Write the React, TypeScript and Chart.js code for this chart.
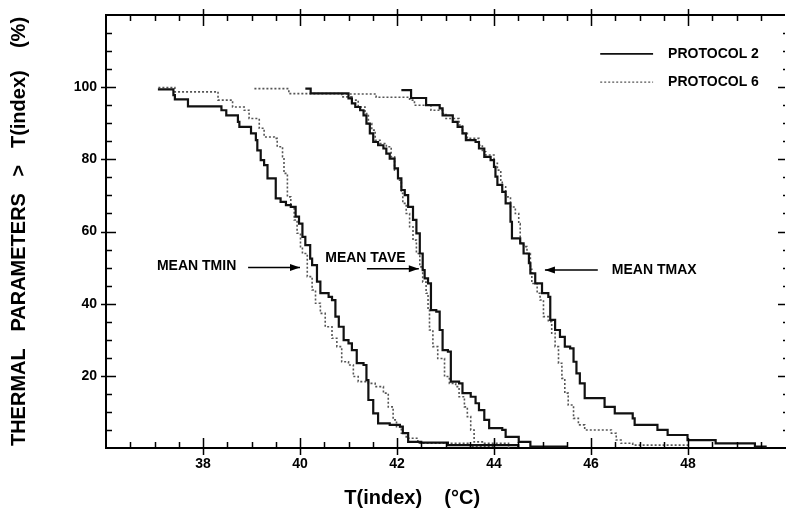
import React, { useEffect, useRef } from "react";
import { Chart, registerables } from "chart.js";

Chart.register(...registerables);

// ---- axis ranges / tick labels ----
const xRange = [36, 50];
const yRange = [0, 120];
const xTickLabels = [38, 40, 42, 44, 46, 48];
const yTickLabels = [20, 40, 60, 80, 100];
const seriesNames = ["PROTOCOL 2", "PROTOCOL 6"];
const annotationLabels = ["MEAN TMIN", "MEAN TAVE", "MEAN TMAX"];

// ---- data: [T(index) in °C, % of patients with parameter > T] ----
const tminP2: [number, number][] = [
  [37.07, 99.4], [37.39, 97.8], [37.42, 96.6], [37.69, 94.7], [38.38, 93.6], [38.48, 92.2],
  [38.72, 90.4], [38.75, 89.0], [38.99, 87.2], [39.09, 85.3], [39.12, 82.5], [39.19, 79.8],
  [39.26, 78.4], [39.33, 74.7], [39.50, 69.2], [39.60, 68.2], [39.71, 67.3], [39.81, 66.8],
  [39.91, 64.1], [39.98, 62.2], [40.05, 58.5], [40.11, 56.2], [40.21, 52.5], [40.25, 50.7],
  [40.35, 46.1], [40.42, 42.9], [40.59, 41.9], [40.66, 41.0], [40.73, 36.4], [40.80, 33.6],
  [40.90, 29.9], [41.00, 29.0], [41.07, 27.1], [41.17, 23.5], [41.31, 23.0], [41.37, 18.8],
  [41.41, 13.3], [41.51, 9.6], [41.61, 6.8], [41.85, 6.4], [42.06, 5.9], [42.12, 4.1],
  [42.23, 1.7], [42.50, 1.5], [43.05, 0.8], [44.5, 0],
];
const tminP6: [number, number][] = [
  [37.08, 99.9], [37.42, 98.7], [38.31, 96.4], [38.61, 94.5], [38.85, 93.6], [38.95, 91.3],
  [39.16, 88.6], [39.26, 86.2], [39.47, 85.8], [39.53, 83.5], [39.64, 80.7], [39.67, 76.1],
  [39.74, 69.6], [39.81, 66.8], [39.88, 63.2], [39.94, 59.5], [40.01, 55.8], [40.05, 53.9],
  [40.15, 47.5], [40.25, 43.8], [40.32, 40.1], [40.42, 37.3], [40.52, 33.6], [40.66, 30.4],
  [40.76, 28.1], [40.86, 23.9], [41.00, 23.0], [41.10, 19.8], [41.20, 18.4], [41.41, 17.9],
  [41.55, 17.0], [41.72, 15.2], [41.82, 11.4], [41.92, 7.8], [41.99, 5.9], [42.09, 4.1],
  [42.19, 2.7], [42.43, 1.3], [43.5, 0.5], [44.0, 0],
];
const taveP2: [number, number][] = [
  [40.11, 99.6], [40.22, 98.3], [41.00, 96.9], [41.07, 95.5], [41.14, 94.5], [41.24, 93.6],
  [41.31, 92.2], [41.37, 89.9], [41.44, 87.2], [41.51, 84.8], [41.61, 83.9], [41.72, 83.0],
  [41.78, 81.6], [41.85, 80.2], [41.95, 77.5], [42.02, 74.7], [42.09, 71.5], [42.16, 70.1],
  [42.23, 66.8], [42.33, 63.2], [42.40, 59.5], [42.47, 53.9], [42.53, 49.3], [42.57, 47.0],
  [42.64, 45.6], [42.70, 38.2], [42.81, 37.8], [42.88, 32.7], [42.94, 27.1], [43.05, 26.7],
  [43.11, 18.4], [43.28, 17.9], [43.35, 15.2], [43.52, 14.2], [43.62, 12.4], [43.69, 10.5],
  [43.80, 7.8], [43.90, 5.5], [44.17, 5.0], [44.24, 3.1], [44.51, 1.7], [44.75, 0.4], [45.5, 0],
];
const taveP6: [number, number][] = [
  [39.06, 99.6], [39.77, 98.2], [40.86, 97.3], [41.07, 96.4], [41.20, 94.5], [41.34, 92.7],
  [41.41, 89.9], [41.48, 88.1], [41.55, 85.3], [41.65, 84.4], [41.78, 83.5], [41.88, 80.7],
  [41.95, 77.0], [42.02, 74.2], [42.09, 70.6], [42.12, 67.8], [42.19, 65.0], [42.26, 61.3],
  [42.33, 57.6], [42.40, 53.9], [42.47, 50.2], [42.53, 46.0], [42.60, 42.9], [42.64, 38.2],
  [42.67, 32.7], [42.74, 28.1], [42.84, 24.8], [42.98, 19.8], [43.08, 17.9], [43.21, 17.0],
  [43.28, 14.2], [43.39, 11.4], [43.45, 8.7], [43.52, 5.0], [43.59, 1.7], [43.76, 1.3], [44.3, 0],
];
const tmaxP2: [number, number][] = [
  [42.09, 99.2], [42.29, 97.0], [42.60, 95.0], [42.88, 94.1], [42.94, 92.2], [43.15, 90.4],
  [43.25, 89.0], [43.35, 87.2], [43.42, 85.3], [43.62, 84.8], [43.69, 83.0], [43.80, 80.7],
  [43.93, 79.8], [44.00, 77.9], [44.03, 75.2], [44.07, 72.9], [44.17, 71.0], [44.24, 67.8],
  [44.34, 62.7], [44.37, 58.1], [44.54, 56.7], [44.61, 53.9], [44.72, 51.2], [44.75, 48.4],
  [44.85, 45.6], [44.99, 42.9], [45.12, 41.9], [45.16, 35.5], [45.26, 32.7], [45.36, 30.8],
  [45.46, 28.1], [45.57, 27.6], [45.64, 23.9], [45.70, 20.7], [45.77, 17.9], [45.87, 13.8],
  [46.28, 11.4], [46.49, 9.6], [46.86, 8.2], [46.90, 6.4], [47.37, 5.0], [47.58, 3.6],
  [47.99, 2.2], [48.57, 1.3], [49.38, 0.4], [49.6, 0],
];
const tmaxP6: [number, number][] = [
  [40.86, 98.1], [41.57, 97.2], [42.26, 96.4], [42.36, 95.0], [42.70, 93.6], [42.94, 92.7],
  [43.01, 91.3], [43.28, 89.5], [43.35, 87.2], [43.45, 85.8], [43.69, 83.9], [43.76, 82.1],
  [43.83, 81.2], [44.00, 78.9], [44.07, 77.0], [44.14, 74.2], [44.17, 72.4], [44.24, 69.6],
  [44.34, 66.8], [44.44, 65.0], [44.51, 62.2], [44.54, 56.7], [44.61, 55.8], [44.68, 53.9],
  [44.75, 49.5], [44.78, 45.6], [44.89, 42.9], [44.95, 41.0], [45.02, 36.4], [45.12, 35.0],
  [45.19, 31.8], [45.26, 28.1], [45.33, 23.5], [45.40, 19.3], [45.46, 15.2], [45.53, 11.9],
  [45.64, 8.2], [45.74, 6.4], [45.87, 5.0], [46.42, 4.1], [46.52, 2.2], [46.62, 1.3],
  [46.86, 0.8], [48.0, 0],
];

const FONT = "'Liberation Sans', Arial, Helvetica, sans-serif";
const SOLID = { borderColor: "#111", borderWidth: 2.2, borderDash: [] as number[] };
const DOTTED = { borderColor: "#555", borderWidth: 1.6, borderDash: [2, 2] };

function toPts(arr: [number, number][]) {
  return arr.map(([x, y]) => ({ x, y }));
}

const framePlugin = {
  id: "frame",
  afterDraw(chart: any) {
    const { ctx, chartArea: a, scales } = chart;
    const xs = scales.x;
    const ys = scales.y;
    ctx.save();
    ctx.strokeStyle = "#000";
    ctx.fillStyle = "#000";
    // top border
    ctx.lineWidth = 2;
    ctx.beginPath();
    ctx.moveTo(a.left, a.top);
    ctx.lineTo(a.right, a.top);
    ctx.stroke();
    // x ticks, bottom and top
    ctx.lineWidth = 1.5;
    for (let v = xRange[0] + 0.5; v < xRange[1]; v += 0.5) {
      const px = Math.round(xs.getPixelForValue(v)) + 0.5;
      const major = Math.abs(v / 2 - Math.round(v / 2)) < 1e-6;
      ctx.beginPath();
      if (major) {
        ctx.moveTo(px, a.bottom - 10); ctx.lineTo(px, a.bottom + 7);
        ctx.moveTo(px, a.top - 6); ctx.lineTo(px, a.top + 11);
      } else {
        ctx.moveTo(px, a.bottom - 6); ctx.lineTo(px, a.bottom);
        ctx.moveTo(px, a.top); ctx.lineTo(px, a.top + 6);
      }
      ctx.stroke();
    }
    // y ticks, left and right
    for (let v = yRange[0] + 5; v < yRange[1]; v += 5) {
      const py = Math.round(ys.getPixelForValue(v)) + 0.5;
      const major = v % 20 === 0;
      ctx.beginPath();
      if (major) {
        ctx.moveTo(a.left - 5, py); ctx.lineTo(a.left + 10, py);
        ctx.moveTo(a.right - 7, py); ctx.lineTo(a.right, py);
      } else {
        ctx.moveTo(a.left, py); ctx.lineTo(a.left + 6, py);
        ctx.moveTo(a.right - 2, py); ctx.lineTo(a.right, py);
      }
      ctx.stroke();
    }

    // annotations
    const ann = [
      { text: annotationLabels[0], tx: 37.05, ty: 50.3, ax0: 38.93, ax1: 40.0, ay: 50.0 },
      { text: annotationLabels[1], tx: 40.52, ty: 52.6, ax0: 41.38, ax1: 42.45, ay: 49.7 },
      { text: annotationLabels[2], tx: 46.43, ty: 49.3, ax0: 46.14, ax1: 45.05, ay: 49.3 },
    ];
    ctx.font = `bold 14px ${FONT}`;
    ctx.textBaseline = "middle";
    ctx.textAlign = "left";
    for (const an of ann) {
      ctx.fillText(an.text, xs.getPixelForValue(an.tx), ys.getPixelForValue(an.ty));
      const x0 = xs.getPixelForValue(an.ax0);
      const x1 = xs.getPixelForValue(an.ax1);
      const y = ys.getPixelForValue(an.ay);
      ctx.lineWidth = 1.5;
      ctx.beginPath();
      ctx.moveTo(x0, y);
      ctx.lineTo(x1, y);
      ctx.stroke();
      const dir = Math.sign(x1 - x0);
      ctx.beginPath();
      ctx.moveTo(x1, y);
      ctx.lineTo(x1 - dir * 10, y - 3.5);
      ctx.lineTo(x1 - dir * 10, y + 3.5);
      ctx.closePath();
      ctx.fill();
    }

    // legend
    const legend = [
      { name: seriesNames[0], y: 109.2, style: SOLID },
      { name: seriesNames[1], y: 101.4, style: DOTTED },
    ];
    for (const lg of legend) {
      const py = ys.getPixelForValue(lg.y);
      ctx.strokeStyle = lg.style.borderColor;
      ctx.lineWidth = lg.style.borderWidth - 0.4;
      ctx.setLineDash(lg.style.borderDash);
      ctx.beginPath();
      ctx.moveTo(xs.getPixelForValue(46.19), py);
      ctx.lineTo(xs.getPixelForValue(47.28), py);
      ctx.stroke();
      ctx.setLineDash([]);
      ctx.fillStyle = "#000";
      ctx.fillText(lg.name, xs.getPixelForValue(47.59), py);
    }
    ctx.restore();
  },
};

export default function App() {
  const ref = useRef<HTMLCanvasElement | null>(null);

  useEffect(() => {
    if (!ref.current) return;
    const mk = (label: string, arr: [number, number][], style: any) => ({
      label,
      data: toPts(arr),
      ...style,
      pointRadius: 0,
      stepped: true,
      fill: false,
      tension: 0,
    });
    const chart = new Chart(ref.current, {
      type: "line",
      data: {
        datasets: [
          mk(`${annotationLabels[0]} ${seriesNames[0]}`, tminP2, SOLID),
          mk(`${annotationLabels[0]} ${seriesNames[1]}`, tminP6, DOTTED),
          mk(`${annotationLabels[1]} ${seriesNames[0]}`, taveP2, SOLID),
          mk(`${annotationLabels[1]} ${seriesNames[1]}`, taveP6, DOTTED),
          mk(`${annotationLabels[2]} ${seriesNames[0]}`, tmaxP2, SOLID),
          mk(`${annotationLabels[2]} ${seriesNames[1]}`, tmaxP6, DOTTED),
        ],
      },
      options: {
        animation: false,
        responsive: true,
        maintainAspectRatio: false,
        layout: { padding: { top: 15, right: 1, left: 0, bottom: 0 } },
        plugins: { legend: { display: false }, tooltip: { enabled: false } },
        scales: {
          x: {
            type: "linear",
            min: xRange[0],
            max: xRange[1],
            grid: { display: false, drawTicks: false },
            border: { display: true, color: "#000", width: 2 },
            afterFit: (s: any) => { s.height = 65; s.paddingLeft = 0; s.paddingRight = 0; },
            ticks: {
              stepSize: 2,
              autoSkip: false,
              maxRotation: 0,
              padding: 8,
              color: "#000",
              font: { family: FONT, size: 14, weight: "bold" },
              callback: (v: any) => (xTickLabels.includes(Number(v)) ? String(v) : ""),
            },
            title: {
              display: true,
              text: "T(index)    (°C)" + "            ",
              color: "#000",
              font: { family: FONT, size: 20, weight: "bold" },
              padding: { top: 0, bottom: 3 },
            },
          },
          y: {
            min: yRange[0],
            max: yRange[1],
            grid: { display: false, drawTicks: false },
            border: { display: true, color: "#000", width: 2 },
            afterFit: (s: any) => { s.width = 106; s.paddingTop = 0; s.paddingBottom = 0; },
            ticks: {
              stepSize: 20,
              padding: 9,
              color: "#000",
              font: { family: FONT, size: 14, weight: "bold" },
              callback: (v: any) => (yTickLabels.includes(Number(v)) ? String(v) : ""),
            },
            title: {
              display: true,
              text: "THERMAL   PARAMETERS   >   T(index)    (%)",
              color: "#000",
              font: { family: FONT, size: 20, weight: "bold" },
              padding: { top: 7, bottom: 0 },
            },
          },
        },
      },
      plugins: [framePlugin],
    });
    return () => chart.destroy();
  }, []);

  return (
    <div style={{ position: "absolute", left: 0, top: 0, width: 786, height: 513, background: "#fff" }}>
      <canvas ref={ref} />
    </div>
  );
}
